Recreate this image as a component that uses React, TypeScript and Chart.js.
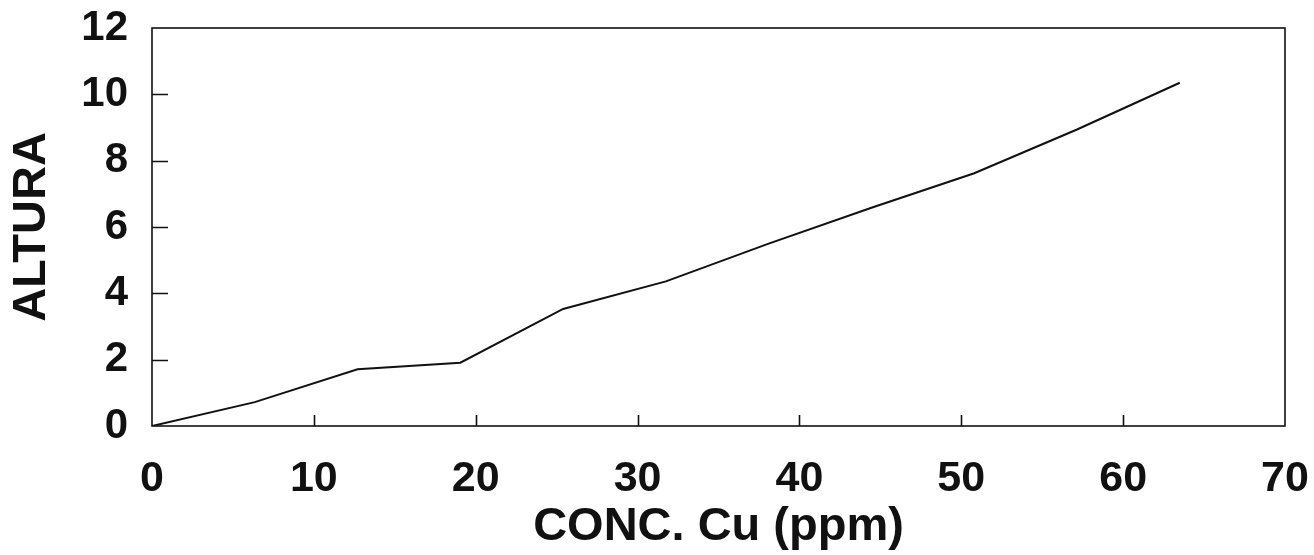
import React, { useEffect, useRef } from 'react';
import { Chart, registerables } from 'chart.js';

Chart.register(...registerables);

// Data
const concCu = [0, 6.35, 12.7, 19.05, 25.4, 31.75, 38.1, 44.45, 50.8, 57.15, 63.5];
const altura = [0, 0.72, 1.71, 1.91, 3.53, 4.36, 5.5, 6.58, 7.62, 8.94, 10.35];
const xRange = [0, 70];
const yRange = [0, 12];
const xStep = 10;
const yStep = 2;
const xTitle = 'CONC. Cu (ppm)';
const yTitle = 'ALTURA';

const FONT = '"Liberation Sans", Arial, Helvetica, sans-serif';
const INK = '#111111';

const framePlugin = {
  id: 'frameTicks',
  afterDatasetsDraw(chart: any) {
    const { ctx, chartArea: a, scales } = chart;
    ctx.save();
    ctx.strokeStyle = INK;
    ctx.lineWidth = 1.6;
    ctx.strokeRect(a.left, a.top, a.right - a.left, a.bottom - a.top);
    ctx.lineWidth = 1.6;
    ctx.beginPath();
    for (const t of scales.y.ticks) {
      if (t.value <= yRange[0] || t.value >= yRange[1]) continue;
      const py = Math.round(scales.y.getPixelForValue(t.value)) + 0.5;
      ctx.moveTo(a.left, py);
      ctx.lineTo(a.left + 16, py);
    }
    for (const t of scales.x.ticks) {
      if (t.value <= xRange[0] || t.value >= xRange[1]) continue;
      const px = Math.round(scales.x.getPixelForValue(t.value)) + 0.5;
      ctx.moveTo(px, a.bottom);
      ctx.lineTo(px, a.bottom - 11);
    }
    ctx.stroke();
    ctx.restore();
  },
};

export default function App() {
  const ref = useRef<HTMLCanvasElement | null>(null);

  useEffect(() => {
    const canvas = ref.current;
    if (!canvas) return;
    const chart = new Chart(canvas, {
      type: 'line',
      data: {
        datasets: [
          {
            data: concCu.map((x, i) => ({ x, y: altura[i] })),
            borderColor: INK,
            borderWidth: 2,
            pointRadius: 0,
            tension: 0,
            fill: false,
          },
        ],
      },
      options: {
        animation: false,
        responsive: false,
        maintainAspectRatio: false,
        layout: { padding: { top: 28, right: 29, left: 0, bottom: 0 } },
        plugins: {
          legend: { display: false },
          tooltip: { enabled: false },
          title: { display: false },
        },
        scales: {
          x: {
            type: 'linear',
            min: xRange[0],
            max: xRange[1],
            grid: { display: false },
            border: { display: false },
            ticks: {
              stepSize: xStep,
              color: INK,
              padding: 19,
              maxRotation: 0,
              font: { family: FONT, size: 43, weight: 'bold' },
            },
            title: {
              display: true,
              text: xTitle,
              color: INK,
              padding: { top: 0, bottom: 0 },
              font: { family: FONT, size: 47, weight: 'bold' },
            },
            afterFit: (scale: any) => {
              scale.height = 129;
              scale.paddingLeft = 0;
              scale.paddingRight = 0;
            },
          },
          y: {
            type: 'linear',
            min: yRange[0],
            max: yRange[1],
            grid: { display: false },
            border: { display: false },
            ticks: {
              stepSize: yStep,
              color: INK,
              padding: 16,
              font: { family: FONT, size: 42, weight: 'bold' },
            },
            title: {
              display: true,
              text: yTitle,
              color: INK,
              padding: { top: 4, bottom: 0 },
              font: { family: FONT, size: 47, weight: 'bold' },
            },
            afterFit: (scale: any) => {
              scale.width = 152;
              scale.paddingTop = 0;
              scale.paddingBottom = 0;
            },
          },
        },
      },
      plugins: [framePlugin],
    });
    return () => chart.destroy();
  }, []);

  return (
    <div style={{ position: 'fixed', left: 0, top: 0, width: 1314, height: 555, background: '#ffffff' }}>
      <canvas ref={ref} width={1314} height={555} style={{ display: 'block' }} />
    </div>
  );
}
